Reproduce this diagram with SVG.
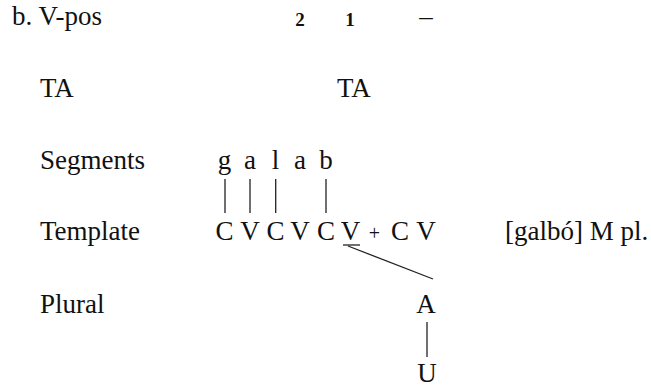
<svg xmlns="http://www.w3.org/2000/svg" width="651" height="387" viewBox="0 0 651 387">
<style>
text{font-family:"Liberation Serif","Times New Roman",serif;font-size:27px;fill:#111}
.c{text-anchor:middle}
.num{font-size:19px;font-weight:bold}
.ln{stroke:#222;stroke-width:1.3;fill:none}
</style>
<rect width="651" height="387" fill="#fff"/>
<g id="labels">
<text x="12" y="25">b. V-pos</text>
<text x="40" y="97">TA</text>
<text x="40" y="169">Segments</text>
<text x="40" y="240">Template</text>
<text x="40" y="313">Plural</text>
</g>
<g id="vpos">
<text class="c num" x="300" y="26">2</text>
<text class="c num" x="350" y="26">1</text>
<text class="c" x="426" y="25">–</text>
</g>
<g id="ta">
<text x="337" y="97">TA</text>
</g>
<g id="segments">
<text class="c" x="224.5" y="169">g</text>
<text class="c" x="250" y="169">a</text>
<text class="c" x="275.5" y="169">l</text>
<text class="c" x="300" y="169">a</text>
<text class="c" x="326" y="169">b</text>
</g>
<g id="template">
<text class="c" x="224.5" y="240">C</text>
<text class="c" x="250" y="240">V</text>
<text class="c" x="275.5" y="240">C</text>
<text class="c" x="300" y="240">V</text>
<text class="c" x="326" y="240">C</text>
<text class="c" x="350.5" y="240">V</text>
<text class="c" x="374.5" y="240" style="font-size:20px">+</text>
<text class="c" x="400" y="240">C</text>
<text class="c" x="426" y="240">V</text>
</g>
<g id="gloss">
<text x="505" y="240">[galbó] M pl.</text>
</g>
<g id="plural">
<text class="c" x="426" y="313">A</text>
<text class="c" x="427" y="382">U</text>
</g>
<g id="connectors">
<line class="ln" x1="225" y1="179" x2="225" y2="213"/>
<line class="ln" x1="250" y1="179" x2="250" y2="213"/>
<line class="ln" x1="275.7" y1="179" x2="275.7" y2="213"/>
<line class="ln" x1="326" y1="179" x2="326" y2="213"/>
<line class="ln" x1="343" y1="245" x2="360" y2="245"/>
<line class="ln" x1="348" y1="246" x2="433" y2="279"/>
<line class="ln" x1="427" y1="322" x2="427" y2="357"/>
</g>
</svg>
